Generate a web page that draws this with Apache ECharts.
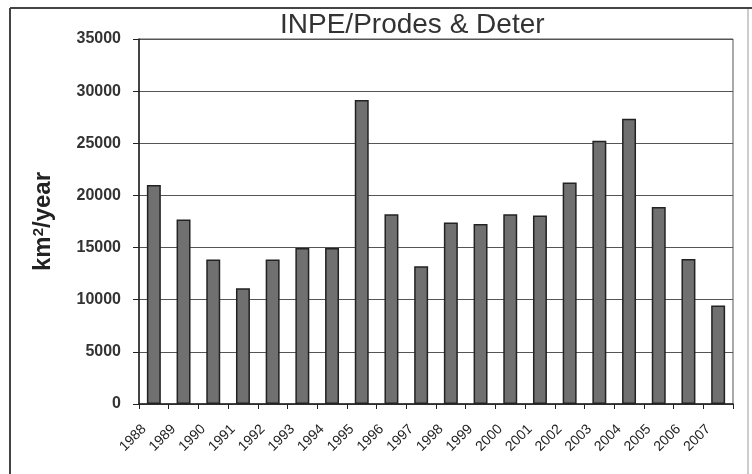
<!DOCTYPE html>
<html>
<head>
<meta charset="utf-8">
<script src="https://cdn.jsdelivr.net/npm/echarts@6/dist/echarts.min.js"></script>
<style>
html,body{margin:0;padding:0;background:#fff;}
#c{width:752px;height:474px;}
</style>
</head>
<body>
<div id="c"></div>
<script>
var years = ['1988','1989','1990','1991','1992','1993','1994','1995','1996','1997','1998','1999','2000','2001','2002','2003','2004','2005','2006','2007'];
var deforestation = [21000, 17700, 13850, 11100, 13850, 14950, 14950, 29150, 18200, 13200, 17400, 17250, 18200, 18080, 21250, 25250, 27350, 18900, 13900, 9450];
var yTicks = [0, 5000, 10000, 15000, 20000, 25000, 30000, 35000];

var chart = echarts.init(document.getElementById('c'), null, {renderer: 'canvas'});
var font = '"Liberation Sans", Arial, sans-serif';
chart.setOption({
  animation: false,
  backgroundColor: '#fff',
  title: {
    text: 'INPE/Prodes & Deter',
    left: 275, top: 6,
    textStyle: {fontFamily: font, fontSize: 28, fontWeight: 'normal', color: '#333'}
  },
  grid: {
    left: 139, right: 19, top: 39, bottom: 70,
    show: true, borderColor: '#555', borderWidth: 1, backgroundColor: 'transparent'
  },
  xAxis: {
    type: 'category',
    data: years,
    axisLine: {lineStyle: {color: '#222', width: 1.5}},
    axisTick: {show: true, length: 5, lineStyle: {color: '#222'}},
    axisLabel: {
      rotate: 45, interval: 0, margin: 13,
      padding: [0, 14, 0, 0],
      fontFamily: font, fontSize: 14, color: '#222'
    }
  },
  yAxis: {
    type: 'value',
    min: yTicks[0], max: yTicks[yTicks.length - 1], interval: 5000,
    name: '{a|km}{s|2}{a|/year}',
    nameLocation: 'middle',
    nameGap: 84,
    nameRotate: 90,
    nameTextStyle: {
      fontFamily: font, fontSize: 24, fontWeight: 'bold', color: '#222',
      rich: {
        a: {fontFamily: font, fontSize: 24, fontWeight: 'bold', color: '#222'},
        s: {fontFamily: font, fontSize: 15, fontWeight: 'bold', color: '#222', verticalAlign: 'top', padding: [0,0,8,0]}
      }
    },
    axisLine: {show: true, lineStyle: {color: '#222', width: 1.5}},
    axisTick: {show: true, length: 6, lineStyle: {color: '#222'}},
    axisLabel: {
      margin: 18, fontFamily: font, fontSize: 16, fontWeight: 'bold', color: '#333',
      formatter: function (v) { return String(v); }
    },
    splitLine: {lineStyle: {color: '#555', width: 1}}
  },
  series: [{
    type: 'bar',
    data: deforestation,
    barWidth: '47%',
    itemStyle: {color: '#707070', borderColor: '#222', borderWidth: 1.5}
  }],
  graphic: [
    {type: 'line', shape: {x1: 10, y1: 8, x2: 752, y2: 8}, style: {stroke: '#444', lineWidth: 2}},
    {type: 'line', shape: {x1: 10, y1: 8, x2: 10, y2: 474}, style: {stroke: '#444', lineWidth: 2}},
    {type: 'line', shape: {x1: 748, y1: 9, x2: 748, y2: 474}, style: {stroke: '#bbb', lineWidth: 1.5}}
  ]
});
</script>
</body>
</html>
